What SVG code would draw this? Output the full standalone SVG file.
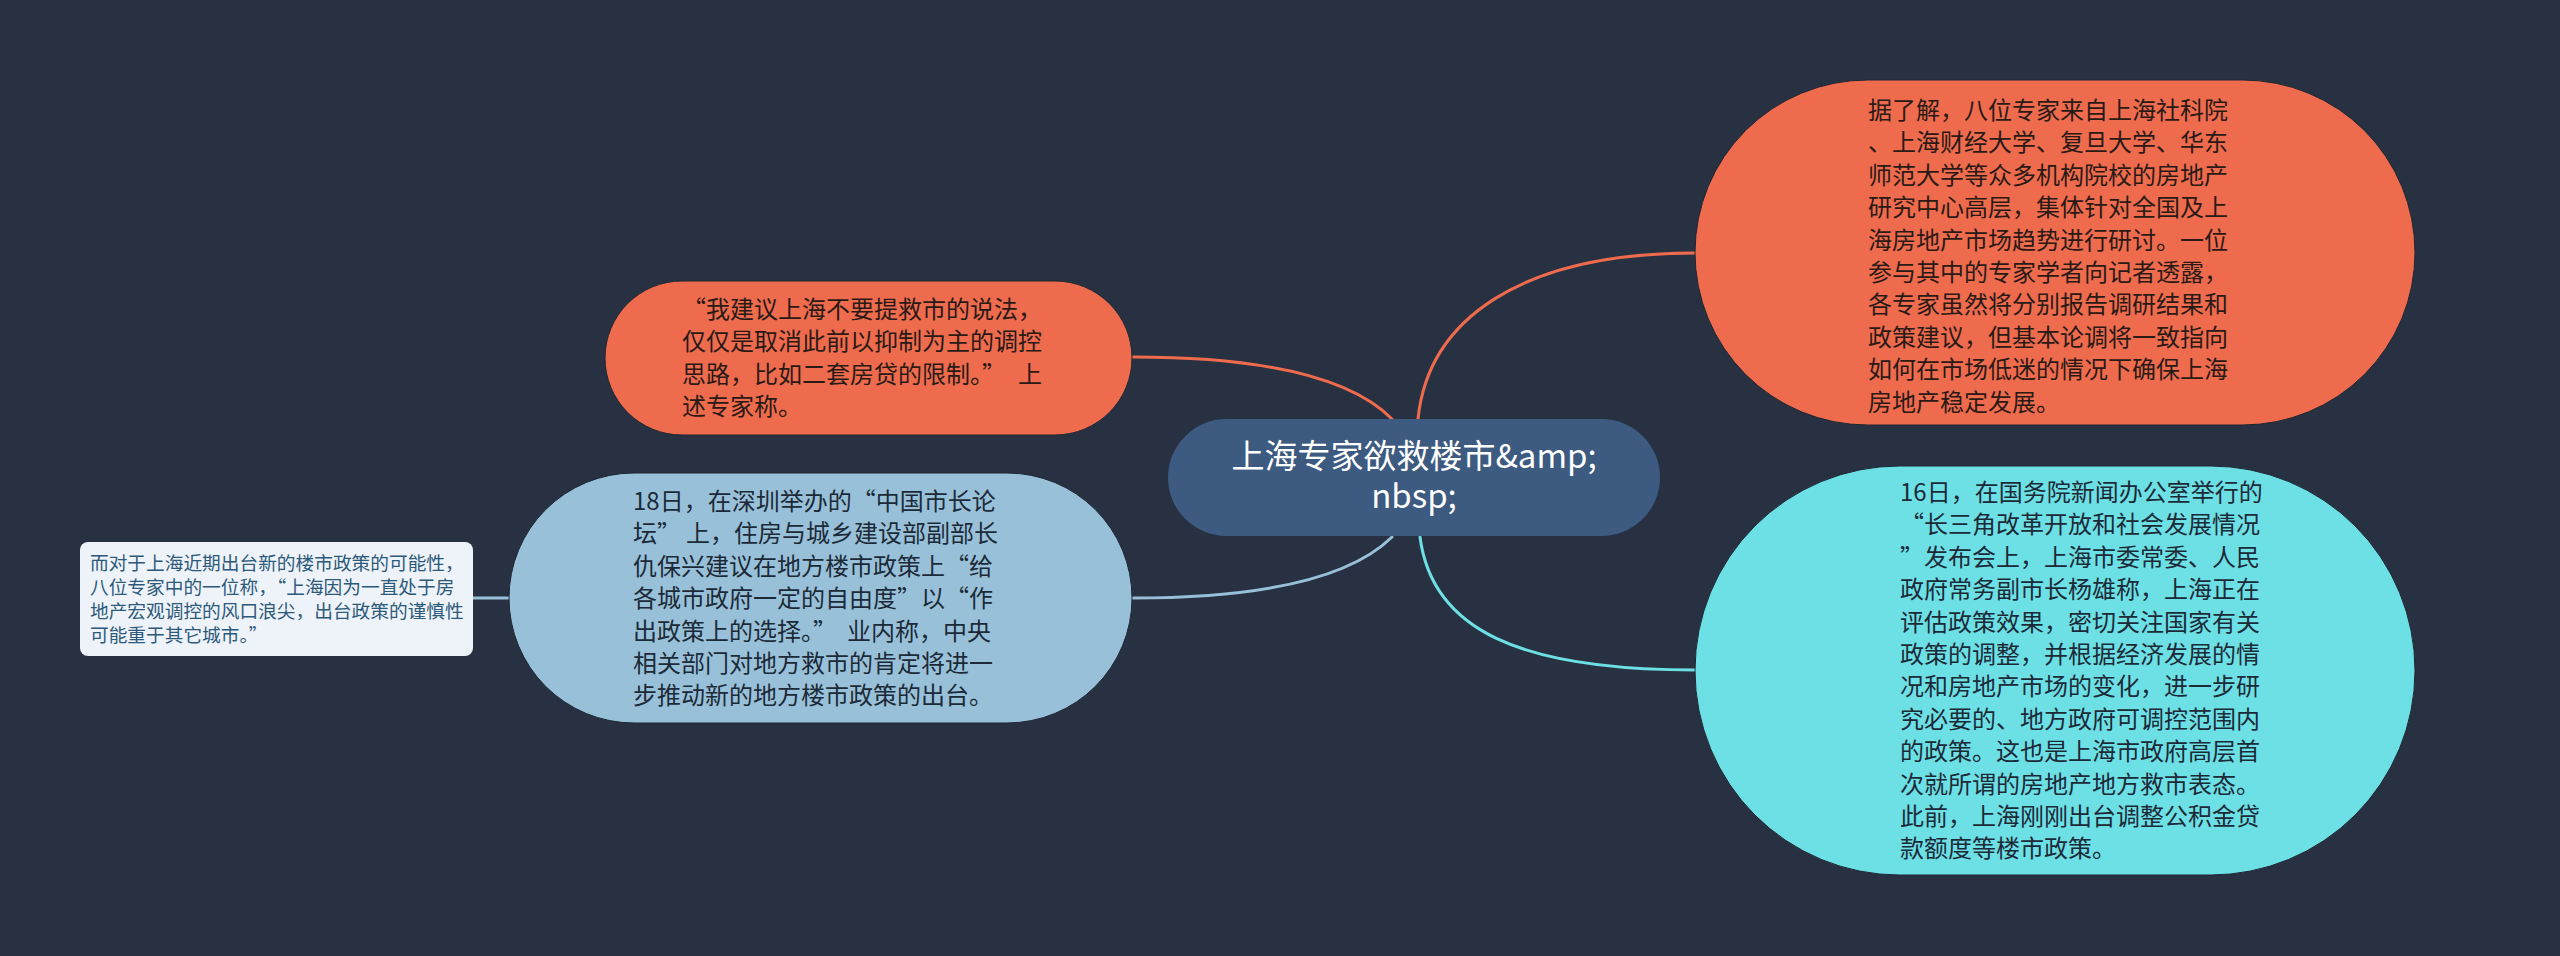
<svg xmlns="http://www.w3.org/2000/svg" width="2560" height="956" viewBox="0 0 2560 956">
<style>
text{font-family:"Noto Sans CJK SC","Noto Sans",sans-serif;}
.t24{font-size:24px;}
.dark{fill:#2a1a16;}
.navy{fill:#1c2a38;}
.conn{fill:none;stroke-width:3;stroke-linecap:round;}
</style>
<rect width="2560" height="956" fill="#283142"/>
<g id="connectors">
<path class="conn" stroke="#ee6b4d" d="M1133,357 Q1330,357 1392,419"/>
<path class="conn" stroke="#98c1d9" d="M1133,598 Q1330,598 1392,537"/>
<path class="conn" stroke="#ee6b4d" d="M1418,419 C1428,320 1520,253 1695,253"/>
<path class="conn" stroke="#6ce0e5" d="M1420,537 C1432,630 1520,670 1695,670"/>
<path class="conn" stroke="#98c1d9" d="M473,598 L509,598"/>
</g>
<g id="center">
<rect x="1168" y="419" width="492" height="117" rx="58.5" fill="#3d5a80"/>
<text x="1414" y="468" text-anchor="middle" font-size="33" fill="#ffffff">上海专家欲救楼市&amp;amp;<tspan x="1414" dy="40">nbsp;</tspan></text>
</g>
<g id="node-tl">
<rect x="605" y="281" width="527" height="154" rx="77" fill="#ee6b4d" stroke="#1f2633" stroke-width="1"/>
<text class="t24 dark" x="682" y="318"><tspan x="682">“我建议上海不要提救市的说法，</tspan><tspan x="682" dy="32.4">仅仅是取消此前以抑制为主的调控</tspan><tspan x="682" dy="32.4">思路，比如二套房贷的限制。”<tspan dx="12">上</tspan></tspan><tspan x="682" dy="32.4">述专家称。</tspan></text>
</g>
<g id="node-blue">
<rect x="509" y="473" width="623" height="250" rx="125" fill="#98c1d9" stroke="#1f2633" stroke-width="1"/>
<text class="t24 navy" x="633" y="510"><tspan x="633">18日，在深圳举办的“中国市长论</tspan><tspan x="633" dy="32.4">坛”<tspan dx="5">上，住房与城乡建设部副部长</tspan></tspan><tspan x="633" dy="32.4">仇保兴建议在地方楼市政策上“给</tspan><tspan x="633" dy="32.4">各城市政府一定的自由度”以“作</tspan><tspan x="633" dy="32.4">出政策上的选择。”<tspan dx="10">业内称，中央</tspan></tspan><tspan x="633" dy="32.4">相关部门对地方救市的肯定将进一</tspan><tspan x="633" dy="32.4">步推动新的地方楼市政策的出台。</tspan></text>
</g>
<g id="node-small">
<rect x="80" y="542" width="393" height="114" rx="8" fill="#edf3f8"/>
<text x="90" y="570" font-size="18.7" fill="#2d5a7b"><tspan x="90">而对于上海近期出台新的楼市政策的可能性，</tspan><tspan x="90" dy="24">八位专家中的一位称，“上海因为一直处于房</tspan><tspan x="90" dy="24">地产宏观调控的风口浪尖，出台政策的谨慎性</tspan><tspan x="90" dy="24">可能重于其它城市。”</tspan></text>
</g>
<g id="node-tr">
<rect x="1695" y="80" width="720" height="345" rx="172.5" fill="#ee6b4d" stroke="#1f2633" stroke-width="1"/>
<text class="t24 dark" x="1868" y="119"><tspan x="1868">据了解，八位专家来自上海社科院</tspan><tspan x="1868" dy="32.4">、上海财经大学、复旦大学、华东</tspan><tspan x="1868" dy="32.4">师范大学等众多机构院校的房地产</tspan><tspan x="1868" dy="32.4">研究中心高层，集体针对全国及上</tspan><tspan x="1868" dy="32.4">海房地产市场趋势进行研讨。一位</tspan><tspan x="1868" dy="32.4">参与其中的专家学者向记者透露，</tspan><tspan x="1868" dy="32.4">各专家虽然将分别报告调研结果和</tspan><tspan x="1868" dy="32.4">政策建议，但基本论调将一致指向</tspan><tspan x="1868" dy="32.4">如何在市场低迷的情况下确保上海</tspan><tspan x="1868" dy="32.4">房地产稳定发展。</tspan></text>
</g>
<g id="node-cyan">
<rect x="1695" y="466" width="720" height="409" rx="204.5" fill="#6ce0e5" stroke="#1f2633" stroke-width="1"/>
<text class="t24 navy" x="1900" y="501"><tspan x="1900">16日，在国务院新闻办公室举行的</tspan><tspan x="1900" dy="32.4">“长三角改革开放和社会发展情况</tspan><tspan x="1900" dy="32.4">”发布会上，上海市委常委、人民</tspan><tspan x="1900" dy="32.4">政府常务副市长杨雄称，上海正在</tspan><tspan x="1900" dy="32.4">评估政策效果，密切关注国家有关</tspan><tspan x="1900" dy="32.4">政策的调整，并根据经济发展的情</tspan><tspan x="1900" dy="32.4">况和房地产市场的变化，进一步研</tspan><tspan x="1900" dy="32.4">究必要的、地方政府可调控范围内</tspan><tspan x="1900" dy="32.4">的政策。这也是上海市政府高层首</tspan><tspan x="1900" dy="32.4">次就所谓的房地产地方救市表态。</tspan><tspan x="1900" dy="32.4">此前，上海刚刚出台调整公积金贷</tspan><tspan x="1900" dy="32.4">款额度等楼市政策。</tspan></text>
</g>
</svg>
